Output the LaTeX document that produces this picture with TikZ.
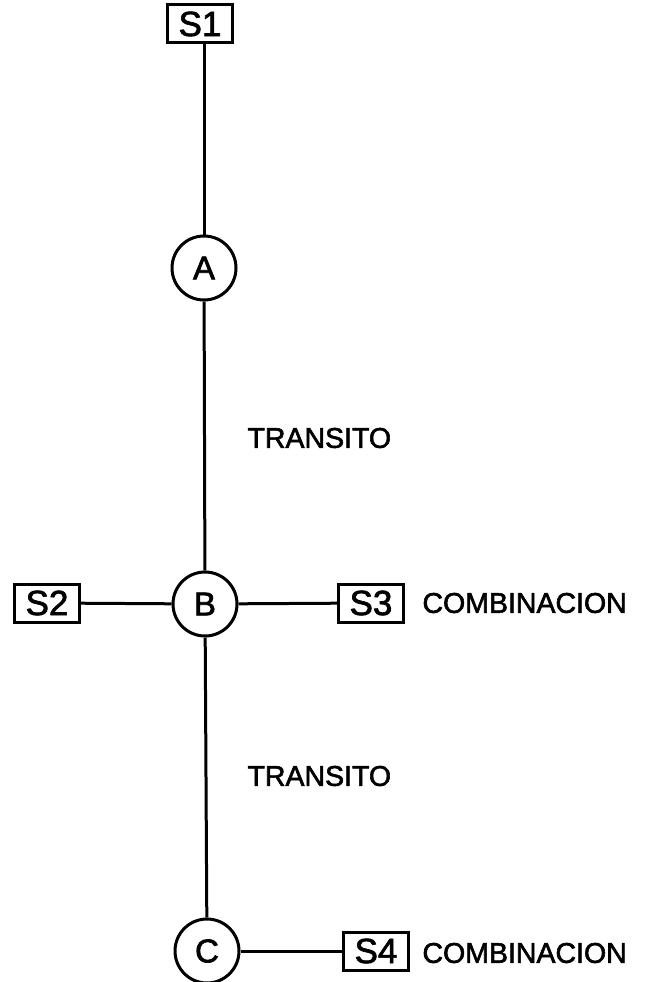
\documentclass[tikz,border=0pt]{standalone}
\usepackage{fontspec}
\setmainfont{Liberation Sans}
\newfontfamily\lettering[FakeBold=2]{Liberation Sans}
\begin{document}
\begin{tikzpicture}[x=1pt,y=-1pt,
  line width=3pt,
  station/.style={draw, rectangle, minimum width=65pt, minimum height=38pt,
    inner sep=0pt, font=\lettering\fontsize{35}{35}\selectfont},
  junction/.style={draw, circle, minimum size=64pt, inner sep=0pt,
    font=\lettering\fontsize{33}{33}\selectfont},
  note/.style={anchor=west, inner sep=0pt, font=\lettering\fontsize{28.5}{28.5}\selectfont}]
\useasboundingbox (0,0) rectangle (651,982);

% stations and junctions
\node[station]  (s1) at (200,24)  {S1};
\node[junction] (a)  at (204,268) {A};
\node[junction] (b)  at (205,604) {B};
\node[junction] (c)  at (207,951) {C};
\node[station]  (s2) at (47,603)  {S2};
\node[station]  (s3) at (371,603) {S3};
\node[station]  (s4) at (376,951) {S4};

% line labels
\node[note] (t1) at (246,438) {TRANSITO};
\node[note] (t2) at (246,776) {TRANSITO};
\node[note] (k1) at (421,603) {COMBINACION};
\node[note] (k2) at (421,953) {COMBINACION};

% connections
\draw (s1.south -| a) -- (a);
\draw (a) -- (b);
\draw (b) -- (c);
\draw (s2) -- (b);
\draw (b) -- (s3);
\draw (c) -- (s4);
\end{tikzpicture}
\end{document}
